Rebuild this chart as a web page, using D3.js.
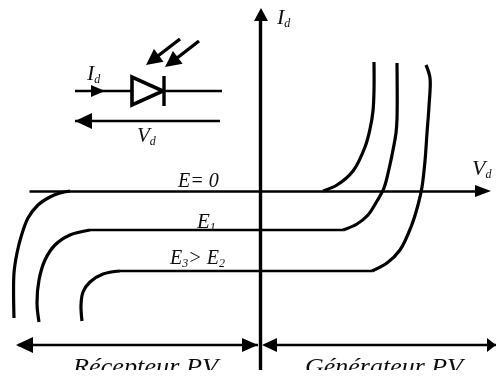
<!DOCTYPE html>
<html>
<head>
<meta charset="utf-8">
<script src="https://cdn.jsdelivr.net/npm/d3@7"></script>
<style>
  html, body { margin: 0; padding: 0; background: #fff; }
  svg { display: block; }
  text { font-family: "Liberation Serif", serif; font-style: italic; fill: #111; }
</style>
</head>
<body>
<div id="chart"></div>
<script>
//values, V and I in picture units around the origin
//each curve has a left bend and a right bend, a flat run joins the two
var leftE0V = [-246, -246, -243, -239, -232, -222, -210, -200, -190];
var leftE0I = [-127, -82, -62, -46, -27, -14, -6, -2, 0];
var rightE0V = [63, 77, 93, 105, 110, 113, 114, 114];
var rightE0I = [0, 6, 20, 44, 62, 80, 100, 129];

var leftE1V = [-221, -223, -221, -215, -205, -190, -170];
var leftE1I = [-131, -112, -89, -69, -54, -44, -39];
var rightE1V = [83, 97, 108, 117, 124, 129, 133, 136, 137, 137];
var rightE1I = [-39, -33, -24, -10, 3, 22, 41, 58, 72, 128];

var leftE2V = [-178, -179, -177, -170, -157, -140];
var leftE2I = [-130, -114, -101, -91, -83, -80];
var rightE2V = [112, 127, 140, 151, 158, 162, 165, 167, 169, 170, 166];
var rightE2I = [-80, -72, -59, -36, -14, 4, 30, 58, 85, 113, 126];

var bends = [
  [leftE0V, leftE0I], [rightE0V, rightE0I],
  [leftE1V, leftE1I], [rightE1V, rightE1I],
  [leftE2V, leftE2I], [rightE2V, rightE2I]
];

var width = 496, height = 370;

var x = d3.scaleLinear().domain([-260, 236]).range([0, width]);
var y = d3.scaleLinear().domain([191, -179]).range([0, height]);

var svg = d3.select("#chart").append("svg")
  .attr("width", 496)
  .attr("height", 378);

//slight softness, the source is a low quality scan
var defs = svg.append("defs");
defs.append("filter").attr("id", "soft")
  .append("feGaussianBlur").attr("stdDeviation", 0.5);
defs.append("clipPath").attr("id", "page")
  .append("rect").attr("width", width).attr("height", height);

var g = svg.append("g").attr("filter", "url(#soft)").attr("clip-path", "url(#page)");

//
//axes, no ticks on this one, only the lines
//
var xAxis = d3.axisBottom(d3.scaleLinear().domain([-231, 222]).range([x(-231), x(222)]))
  .tickValues([]).tickSizeOuter(0);
var yAxis = d3.axisLeft(d3.scaleLinear().domain([179, -179]).range([y(179), y(-179)]))
  .tickValues([]).tickSizeOuter(0);

g.append("g").attr("transform", "translate(0," + y(0) + ")").call(xAxis)
  .select(".domain").attr("stroke", "#000").attr("stroke-width", 2.4);
g.append("g").attr("transform", "translate(" + x(0) + ",0)").call(yAxis)
  .select(".domain").attr("stroke", "#000").attr("stroke-width", 3.4);

//
//the bends of the three curves
//
var line = d3.line()
  .x(function(d) { return x(d[0]); })
  .y(function(d) { return y(d[1]); })
  .curve(d3.curveCatmullRom.alpha(0.5));

bends.forEach(function(c) {
  var pts = c[0].map(function(v, i) { return [v, c[1][i]]; });
  g.append("path")
    .attr("d", line(pts))
    .attr("fill", "none")
    .attr("stroke", "#000")
    .attr("stroke-width", 3.2);
});

//
//plain segments: [V1, I1, V2, I2, width]
//
var segments = [
  [-170, -39, 83, -39, 2.4],         //E1 flat run
  [-140, -80, 112, -80, 2.4],        //E2 flat run
  [-185, 100, -38, 100, 2.6],        //diode wire
  [-185, 70, -40, 70, 2.6],          //Vd arrow
  [-242, -154, -2, -154, 2.6],       //Recepteur arrow
  [5, -154, 236, -154, 2.6],         //Generateur arrow
  [-80, 152, -110, 129, 3.4],        //photon 1
  [-61, 150, -92, 126, 3.4],         //photon 2
  [-96, 115, -96, 85, 3.4]           //cathode bar
];

segments.forEach(function(s) {
  g.append("line")
    .attr("x1", x(s[0])).attr("y1", y(s[1]))
    .attr("x2", x(s[2])).attr("y2", y(s[3]))
    .attr("stroke", "#000")
    .attr("stroke-width", s[4]);
});

//arrow heads: tip V, tip I, direction in degrees, length, half width
var heads = [
  [1, 183, -90, 13, 7],
  [231, 0, 0, 16, 6],
  [-155, 100, 0, 14, 6],
  [-185, 70, 180, 17, 8],
  [-244, -154, 180, 17, 8],
  [-2, -154, 0, 16, 7],
  [2, -154, 180, 15, 7],
  [236, -154, 0, 9, 7],
  [-114, 126, 143, 16, 8],
  [-95, 124, 143, 16, 8]
];

heads.forEach(function(h) {
  var len = h[3], hw = h[4];
  g.append("path")
    .attr("d", d3.line()([[0, 0], [-len, -hw], [-len, hw]]) + "Z")
    .attr("transform", "translate(" + x(h[0]) + "," + y(h[1]) + ") rotate(" + h[2] + ")")
    .attr("fill", "#000");
});

//diode triangle
var triV = [-128, -128, -97];
var triI = [114, 86, 100];
g.append("path")
  .attr("d", d3.line()(triV.map(function(v, i) { return [x(v), y(triI[i])]; })) + "Z")
  .attr("fill", "#fff")
  .attr("stroke", "#000")
  .attr("stroke-width", 3.6);

//
//labels: text, subscript, V, I, size
//
var labels = [
  ["I", "d", -173, 111, 22],
  ["V", "d", -123, 49, 21],
  ["I", "d", 17, 167, 22],
  ["V", "d", 212, 16, 22],
  ["E", "1", -63, -37, 21]
];

labels.forEach(function(l) {
  var t = g.append("text")
    .attr("x", x(l[2])).attr("y", y(l[3]))
    .style("font-size", l[4] + "px")
    .text(l[0]);
  t.append("tspan").attr("dy", 3).style("font-size", "12px").text(l[1]);
});

g.append("text").attr("x", x(-82)).attr("y", y(4)).style("font-size", "20px").text("E= 0");

var e3 = g.append("text").attr("x", x(-90)).attr("y", y(-73)).style("font-size", "20px");
e3.append("tspan").text("E");
e3.append("tspan").attr("dy", 3).style("font-size", "12px").text("3");
e3.append("tspan").attr("dy", -3).text("> E");
e3.append("tspan").attr("dy", 3).style("font-size", "12px").text("2");

g.append("text").attr("x", x(-187)).attr("y", y(-183))
  .attr("textLength", 145).attr("lengthAdjust", "spacingAndGlyphs")
  .style("font-size", "24px").text("Récepteur PV");
g.append("text").attr("x", x(45)).attr("y", y(-183))
  .attr("textLength", 158).attr("lengthAdjust", "spacingAndGlyphs")
  .style("font-size", "24px").text("Générateur PV");
</script>
</body>
</html>
